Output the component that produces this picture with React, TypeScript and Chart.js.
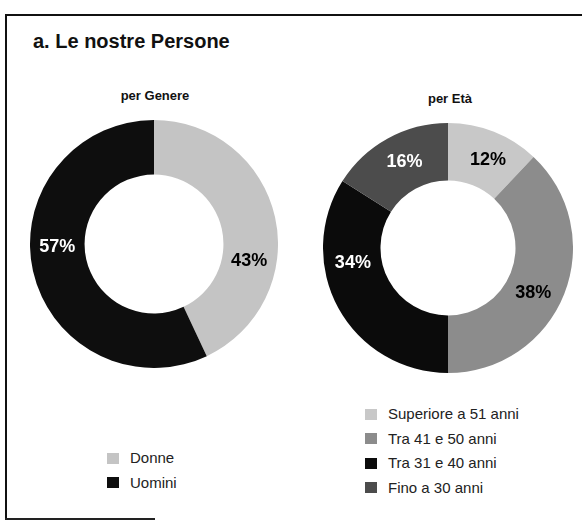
import React, { useEffect, useRef } from "react";
import { Chart, registerables } from "chart.js";

Chart.register(...registerables);

const titleText = "a. Le nostre Persone";

const genderTitle = "per Genere";
const genderLabels = ["Donne", "Uomini"];
const genderValues = [43, 57];

const ageTitle = "per Età";
const ageLabels = ["Superiore a 51 anni", "Tra 41 e 50 anni", "Tra 31 e 40 anni", "Fino a 30 anni"];
const ageValues = [12, 38, 34, 16];

// styles
const genderColors = ["#c4c4c4", "#0e0e0e"];
const genderTextColors = ["#000000", "#ffffff"];
const ageColors = ["#c8c8c8", "#8c8c8c", "#0b0b0b", "#4c4c4c"];
const ageTextColors = ["#000000", "#000000", "#ffffff", "#ffffff"];
// label angle nudges (degrees, clockwise) relative to each slice's middle angle
const genderLabelNudge = [23, 11];
const ageLabelNudge = [3, 6, 20, 2];

const FONT = "'Liberation Sans', Arial, sans-serif";

function makePctPlugin(textColors: string[], nudges: number[]) {
  return {
    id: "pctLabels",
    afterDatasetsDraw(chart: any) {
      const ctx = chart.ctx;
      const ds = chart.data.datasets[0];
      const meta = chart.getDatasetMeta(0);
      ctx.save();
      ctx.font = "bold 18px " + FONT;
      ctx.textAlign = "center";
      ctx.textBaseline = "middle";
      meta.data.forEach((arc: any, i: number) => {
        const { x, y, startAngle, endAngle, innerRadius, outerRadius } = arc.getProps(
          ["x", "y", "startAngle", "endAngle", "innerRadius", "outerRadius"],
          false
        );
        const mid = (startAngle + endAngle) / 2 + ((nudges[i] || 0) * Math.PI) / 180;
        const r = (innerRadius + outerRadius) / 2;
        ctx.fillStyle = textColors[i];
        ctx.fillText(ds.data[i] + "%", x + Math.cos(mid) * r, y + Math.sin(mid) * r);
      });
      ctx.restore();
    },
  };
}

type DonutProps = {
  labels: string[];
  values: number[];
  colors: string[];
  textColors: string[];
  nudges: number[];
  cutout: string;
  style: React.CSSProperties;
};

function Donut({ labels, values, colors, textColors, nudges, cutout, style }: DonutProps) {
  const ref = useRef<HTMLCanvasElement>(null);
  useEffect(() => {
    if (!ref.current) return;
    const chart = new Chart(ref.current, {
      type: "doughnut",
      data: {
        labels,
        datasets: [{ data: values, backgroundColor: colors, borderWidth: 0 }],
      },
      options: {
        animation: false,
        responsive: true,
        maintainAspectRatio: false,
        cutout,
        layout: { padding: 0 },
        plugins: { legend: { display: false }, tooltip: { enabled: false } },
      },
      plugins: [makePctPlugin(textColors, nudges)],
    } as any);
    return () => chart.destroy();
  }, []);
  return (
    <div style={{ position: "absolute", ...style }}>
      <canvas ref={ref} />
    </div>
  );
}

function Legend({ labels, colors, style }: { labels: string[]; colors: string[]; style: React.CSSProperties }) {
  return (
    <div style={{ position: "absolute", ...style }}>
      {labels.map((l, i) => (
        <div key={l} style={{ display: "flex", alignItems: "center", height: 24.5 }}>
          <span style={{ display: "inline-block", width: 12, height: 11, background: colors[i], marginRight: 11 }} />
          <span style={{ font: "15px " + FONT, color: "#222", lineHeight: "24px", whiteSpace: "nowrap" }}>{l}</span>
        </div>
      ))}
    </div>
  );
}

export default function App() {
  return (
    <div
      style={{
        position: "fixed",
        left: 0,
        top: 0,
        width: 582,
        height: 522,
        background: "#ffffff",
        overflow: "hidden",
        fontFamily: FONT,
      }}
    >
      <div style={{ position: "absolute", left: 6, top: 14, width: 576, height: 2, background: "#111" }} />
      <div style={{ position: "absolute", left: 5, top: 14, width: 2, height: 506, background: "#111" }} />
      <div style={{ position: "absolute", left: 5, top: 518, width: 150, height: 2, background: "#222" }} />

      <div style={{ position: "absolute", left: 33, top: 31, font: "bold 20px " + FONT, lineHeight: "20px", color: "#111", whiteSpace: "nowrap" }}>
        {titleText}
      </div>

      <div style={{ position: "absolute", left: 55, width: 200, top: 89, textAlign: "center", font: "bold 13px " + FONT, lineHeight: "13px", color: "#111" }}>
        {genderTitle}
      </div>
      <div style={{ position: "absolute", left: 350, width: 200, top: 92, textAlign: "center", font: "bold 13px " + FONT, lineHeight: "13px", color: "#111" }}>
        {ageTitle}
      </div>

      <Donut
        labels={genderLabels}
        values={genderValues}
        colors={genderColors}
        textColors={genderTextColors}
        nudges={genderLabelNudge}
        cutout="56%"
        style={{ left: 30, top: 120, width: 248, height: 248 }}
      />
      <Donut
        labels={ageLabels}
        values={ageValues}
        colors={ageColors}
        textColors={ageTextColors}
        nudges={ageLabelNudge}
        cutout="54%"
        style={{ left: 323, top: 123, width: 250, height: 250 }}
      />

      <Legend labels={genderLabels} colors={genderColors} style={{ left: 107, top: 446 }} />
      <Legend labels={ageLabels} colors={ageColors} style={{ left: 365, top: 402 }} />
    </div>
  );
}
